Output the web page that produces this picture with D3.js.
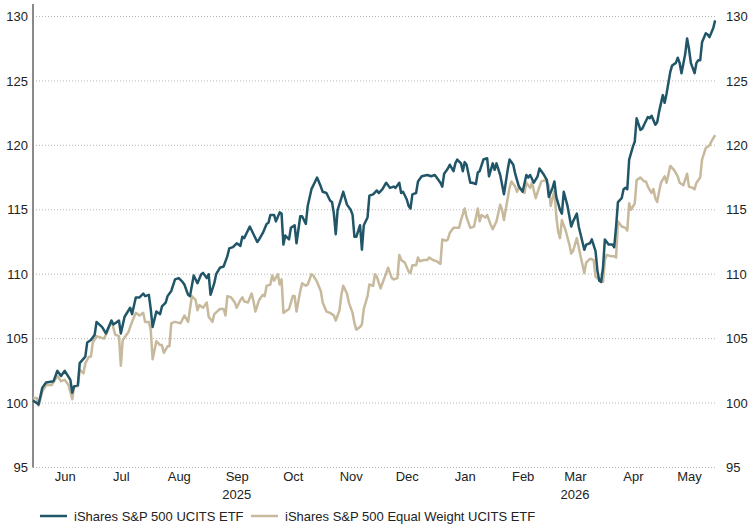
<!DOCTYPE html>
<html>
  <head>
    <title>iShares S&P 500 vs Equal Weight</title>
  <script src="https://d3js.org/d3.v7.min.js"></script>
  <style>
    body { margin: 0; background: #fff; }
    text { font-family: "Liberation Sans", Arial, sans-serif; }
  </style>
 </head>
<body>
<script type="text/javascript">

// series names (legend order)
var seriesNames = ["iShares S&P 500 UCITS ETF", "iShares S&P 500 Equal Weight UCITS ETF"];

// iShares S&P 500 UCITS ETF, rebased to 100
var spPoints = [
  ["2025-05-29",100.2],["2025-06-01",99.9],["2025-06-03",101.2],["2025-06-05",101.6],["2025-06-09",101.7],["2025-06-11",102.5],["2025-06-13",102.1],["2025-06-15",102.5],["2025-06-18",101.8],["2025-06-19",100.8],["2025-06-20",101.3],["2025-06-22",101.4],["2025-06-23",103.1],["2025-06-26",103.6],["2025-06-27",104.7],["2025-06-29",104.9],
  ["2025-07-01",105.3],["2025-07-02",106.3],["2025-07-05",105.9],["2025-07-07",105.4],["2025-07-10",106.4],["2025-07-11",106.1],["2025-07-14",106.4],["2025-07-15",105.4],["2025-07-17",106.7],["2025-07-20",107.4],["2025-07-21",106.9],["2025-07-23",108.2],["2025-07-25",108.2],["2025-07-27",108.5],["2025-07-28",108.3],["2025-07-30",108.4],["2025-07-31",107.3],
  ["2025-08-01",105.9],["2025-08-03",107.1],["2025-08-05",106.9],["2025-08-06",107.5],["2025-08-08",107.8],["2025-08-09",108.3],["2025-08-11",108.7],["2025-08-13",109.6],["2025-08-15",109.7],["2025-08-17",109.4],["2025-08-18",109.2],["2025-08-20",108.4],["2025-08-21",108.3],["2025-08-23",109.9],["2025-08-25",109.3],["2025-08-27",110.0],["2025-08-28",110.1],["2025-08-30",109.7],["2025-08-31",110.0],
  ["2025-09-01",108.4],["2025-09-03",109.3],["2025-09-04",110.0],["2025-09-06",110.5],["2025-09-08",110.6],["2025-09-10",111.4],["2025-09-11",112.0],["2025-09-13",112.1],["2025-09-15",112.4],["2025-09-17",112.2],["2025-09-18",112.9],["2025-09-19",112.8],["2025-09-22",113.7],["2025-09-24",113.1],["2025-09-26",112.5],["2025-09-27",112.7],["2025-09-29",113.2],
  ["2025-10-01",113.9],["2025-10-02",114.0],["2025-10-03",114.6],["2025-10-05",114.6],["2025-10-06",114.1],["2025-10-08",114.8],["2025-10-09",114.7],["2025-10-10",112.3],["2025-10-11",113.0],["2025-10-13",112.7],["2025-10-14",113.6],["2025-10-16",113.8],["2025-10-17",112.4],["2025-10-19",114.5],["2025-10-20",114.5],["2025-10-22",113.9],["2025-10-23",115.3],["2025-10-25",116.6],["2025-10-27",117.2],["2025-10-28",117.5],["2025-10-30",116.8],["2025-10-31",116.4],
  ["2025-11-02",116.3],["2025-11-04",115.7],["2025-11-05",115.6],["2025-11-06",114.7],["2025-11-07",113.1],["2025-11-08",115.0],["2025-11-10",115.9],["2025-11-11",116.4],["2025-11-13",115.4],["2025-11-15",115.0],["2025-11-16",114.6],["2025-11-17",112.9],["2025-11-18",112.9],["2025-11-20",113.8],["2025-11-21",111.9],["2025-11-22",113.8],["2025-11-24",114.4],["2025-11-25",116.1],["2025-11-27",116.2],["2025-11-29",116.5],["2025-11-30",116.3],
  ["2025-12-02",116.6],["2025-12-04",117.1],["2025-12-06",116.7],["2025-12-08",116.8],["2025-12-09",116.7],["2025-12-11",117.1],["2025-12-12",116.3],["2025-12-13",116.4],["2025-12-15",115.8],["2025-12-16",115.3],["2025-12-17",115.1],["2025-12-18",116.2],["2025-12-20",116.3],["2025-12-21",117.2],["2025-12-23",117.6],["2025-12-26",117.7],["2025-12-28",117.6],["2025-12-30",117.7],["2025-12-31",117.5],
  ["2026-01-02",117.1],["2026-01-03",116.8],["2026-01-04",117.8],["2026-01-06",118.2],["2026-01-07",118.5],["2026-01-09",118.0],["2026-01-10",118.6],["2026-01-11",118.9],["2026-01-13",118.6],["2026-01-14",118.0],["2026-01-15",118.7],["2026-01-16",118.5],["2026-01-18",117.1],["2026-01-19",117.1],["2026-01-21",117.0],["2026-01-22",117.9],["2026-01-23",118.0],["2026-01-25",118.9],["2026-01-27",119.0],["2026-01-28",117.6],["2026-01-30",118.6],["2026-01-31",118.1],
  ["2026-02-01",118.6],["2026-02-03",117.7],["2026-02-05",116.2],["2026-02-07",118.1],["2026-02-08",118.9],["2026-02-10",118.5],["2026-02-11",117.8],["2026-02-13",116.8],["2026-02-15",116.4],["2026-02-17",117.7],["2026-02-18",117.5],["2026-02-19",117.7],["2026-02-21",117.1],["2026-02-23",117.6],["2026-02-24",118.2],["2026-02-26",117.8],["2026-02-28",117.3],
  ["2026-03-01",116.0],["2026-03-03",116.7],["2026-03-04",117.2],["2026-03-05",116.0],["2026-03-07",115.0],["2026-03-08",114.7],["2026-03-09",116.4],["2026-03-11",115.3],["2026-03-13",113.7],["2026-03-14",114.1],["2026-03-16",114.7],["2026-03-17",113.7],["2026-03-19",112.5],["2026-03-20",111.9],["2026-03-21",112.3],["2026-03-23",112.4],["2026-03-24",112.7],["2026-03-26",111.8],["2026-03-27",110.3],["2026-03-28",109.5],["2026-03-29",109.4],["2026-03-30",110.5],["2026-03-31",112.7],
  ["2026-04-02",112.3],["2026-04-04",112.3],["2026-04-05",112.1],["2026-04-06",113.7],["2026-04-07",115.6],["2026-04-09",115.9],["2026-04-10",116.6],["2026-04-11",116.7],["2026-04-12",116.6],["2026-04-13",118.9],["2026-04-15",119.9],["2026-04-16",120.3],["2026-04-17",122.1],["2026-04-19",121.2],["2026-04-20",121.3],["2026-04-21",121.6],["2026-04-23",122.2],["2026-04-24",122.1],["2026-04-25",122.3],["2026-04-27",121.6],["2026-04-28",121.8],["2026-04-29",122.6],
  ["2026-05-01",123.9],["2026-05-02",123.3],["2026-05-03",124.0],["2026-05-05",125.7],["2026-05-06",126.2],["2026-05-08",126.4],["2026-05-09",126.8],["2026-05-10",126.4],["2026-05-11",125.6],["2026-05-13",127.1],["2026-05-14",128.3],["2026-05-15",127.5],["2026-05-16",126.4],["2026-05-18",125.6],["2026-05-19",126.4],["2026-05-20",126.6],["2026-05-21",126.6],["2026-05-22",128.0],["2026-05-24",128.7],["2026-05-25",128.6],["2026-05-26",128.4],["2026-05-28",129.1],["2026-05-29",129.7]
];

// iShares S&P 500 Equal Weight UCITS ETF, rebased to 100
var ewPoints = [
  ["2025-05-29",100.4],["2025-05-31",100.4],["2025-06-01",99.8],["2025-06-03",100.9],["2025-06-05",101.4],["2025-06-08",101.4],["2025-06-11",102.1],["2025-06-13",101.7],["2025-06-15",101.8],["2025-06-17",101.4],["2025-06-19",100.3],["2025-06-20",101.3],["2025-06-22",101.3],["2025-06-23",102.6],["2025-06-25",102.3],["2025-06-26",103.1],["2025-06-28",103.6],["2025-06-29",103.6],["2025-06-30",104.7],
  ["2025-07-02",105.2],["2025-07-04",105.1],["2025-07-06",105.0],["2025-07-08",105.6],["2025-07-10",106.4],["2025-07-12",105.3],["2025-07-14",105.2],["2025-07-15",102.9],["2025-07-16",104.9],["2025-07-19",105.5],["2025-07-21",106.3],["2025-07-23",107.0],["2025-07-25",106.8],["2025-07-27",107.0],["2025-07-28",106.3],["2025-07-30",106.3],["2025-07-31",105.7],
  ["2025-08-01",103.4],["2025-08-03",104.8],["2025-08-05",104.5],["2025-08-06",104.5],["2025-08-07",103.9],["2025-08-09",104.4],["2025-08-10",104.4],["2025-08-11",106.2],["2025-08-13",106.3],["2025-08-16",106.2],["2025-08-18",106.8],["2025-08-20",106.3],["2025-08-22",108.3],["2025-08-24",108.0],["2025-08-25",107.2],["2025-08-26",107.6],["2025-08-28",107.4],["2025-08-30",107.8],["2025-08-31",106.7],
  ["2025-09-02",106.3],["2025-09-03",106.9],["2025-09-06",107.3],["2025-09-08",107.3],["2025-09-09",106.8],["2025-09-10",108.3],["2025-09-12",108.2],["2025-09-14",107.8],["2025-09-15",107.4],["2025-09-17",108.0],["2025-09-18",108.2],["2025-09-19",107.9],["2025-09-21",107.8],["2025-09-23",108.5],["2025-09-24",107.9],["2025-09-25",107.1],["2025-09-27",108.0],["2025-09-29",108.4],["2025-09-30",108.3],
  ["2025-10-01",109.1],["2025-10-03",109.2],["2025-10-04",109.9],["2025-10-05",109.5],["2025-10-07",110.0],["2025-10-08",109.2],["2025-10-09",109.6],["2025-10-10",107.0],["2025-10-12",107.2],["2025-10-13",107.3],["2025-10-15",108.3],["2025-10-16",108.3],["2025-10-17",107.1],["2025-10-19",108.7],["2025-10-20",109.3],["2025-10-22",109.1],["2025-10-23",109.2],["2025-10-25",110.0],["2025-10-26",109.9],["2025-10-28",109.4],["2025-10-30",108.7],["2025-10-31",107.8],
  ["2025-11-02",107.1],["2025-11-04",107.0],["2025-11-06",106.8],["2025-11-07",106.4],["2025-11-09",107.2],["2025-11-10",108.4],["2025-11-11",109.1],["2025-11-13",108.5],["2025-11-14",107.8],["2025-11-16",107.0],["2025-11-17",106.2],["2025-11-18",105.7],["2025-11-20",105.9],["2025-11-21",106.1],["2025-11-22",107.3],["2025-11-24",108.3],["2025-11-25",109.2],["2025-11-27",109.1],["2025-11-28",110.0],["2025-11-29",109.8],
  ["2025-12-01",108.9],["2025-12-03",109.7],["2025-12-05",110.5],["2025-12-07",109.7],["2025-12-08",109.6],["2025-12-10",109.7],["2025-12-11",111.5],["2025-12-12",111.1],["2025-12-14",110.9],["2025-12-16",110.2],["2025-12-17",110.1],["2025-12-18",110.7],["2025-12-20",110.7],["2025-12-21",111.3],["2025-12-22",111.0],["2025-12-24",111.1],["2025-12-26",111.1],["2025-12-27",111.3],["2025-12-29",111.1],["2025-12-31",111.0],
  ["2026-01-02",110.8],["2026-01-03",112.7],["2026-01-05",112.6],["2026-01-06",112.7],["2026-01-07",113.2],["2026-01-09",113.6],["2026-01-10",113.6],["2026-01-12",113.6],["2026-01-13",114.2],["2026-01-15",115.1],["2026-01-16",114.4],["2026-01-18",113.6],["2026-01-20",113.7],["2026-01-21",114.4],["2026-01-22",115.1],["2026-01-23",114.1],["2026-01-24",114.6],["2026-01-26",114.4],["2026-01-27",114.6],["2026-01-29",113.8],["2026-01-30",113.5],
  ["2026-02-01",114.1],["2026-02-03",115.4],["2026-02-04",115.0],["2026-02-05",114.2],["2026-02-07",115.9],["2026-02-08",116.7],["2026-02-09",117.2],["2026-02-11",116.8],["2026-02-12",116.4],["2026-02-13",116.7],["2026-02-15",116.5],["2026-02-16",116.3],["2026-02-17",117.1],["2026-02-19",116.7],["2026-02-20",117.1],["2026-02-22",115.9],["2026-02-24",116.8],["2026-02-25",117.2],["2026-02-27",117.3],
  ["2026-03-01",116.9],["2026-03-02",115.3],["2026-03-04",116.5],["2026-03-05",114.5],["2026-03-06",113.3],["2026-03-07",112.8],["2026-03-08",114.2],["2026-03-10",113.4],["2026-03-12",112.3],["2026-03-13",111.6],["2026-03-14",111.8],["2026-03-16",112.8],["2026-03-18",111.4],["2026-03-20",110.1],["2026-03-21",110.9],["2026-03-23",111.2],["2026-03-25",111.1],["2026-03-26",109.8],["2026-03-28",109.6],["2026-03-29",109.6],["2026-03-30",109.4],["2026-03-31",111.1],
  ["2026-04-01",111.5],["2026-04-03",111.4],["2026-04-05",111.4],["2026-04-06",111.3],["2026-04-07",114.1],["2026-04-09",113.7],["2026-04-11",113.6],["2026-04-12",113.4],["2026-04-13",115.5],["2026-04-14",115.0],["2026-04-16",115.5],["2026-04-17",117.3],["2026-04-19",117.5],["2026-04-21",117.2],["2026-04-22",117.2],["2026-04-23",116.8],["2026-04-25",116.3],["2026-04-26",116.6],["2026-04-27",115.9],["2026-04-28",115.6],["2026-04-29",116.4],["2026-04-30",117.1],
  ["2026-05-02",117.6],["2026-05-03",117.1],["2026-05-05",118.4],["2026-05-07",118.1],["2026-05-09",117.6],["2026-05-10",117.1],["2026-05-12",116.9],["2026-05-14",117.8],["2026-05-15",116.8],["2026-05-17",116.7],["2026-05-18",116.6],["2026-05-19",117.1],["2026-05-21",117.5],["2026-05-22",118.9],["2026-05-24",119.8],["2026-05-26",120.0],["2026-05-27",120.3],["2026-05-29",120.8]
];

// axis labels
var yTicks = [95, 100, 105, 110, 115, 120, 125, 130];
var monthTicks = ["2025-06-15","2025-07-15","2025-08-15","2025-09-15","2025-10-15","2025-11-15","2025-12-15","2026-01-15","2026-02-15","2026-03-15","2026-04-15","2026-05-15"];
var yearLabels = [["2025","2025-09-15"],["2026","2026-03-15"]];

var width = 752, height = 528;
var margin = {left: 33, right: 35, top: 16.5, bottom: 60.5};
var colors = ["#215668", "#c7b99c"];

var parse = d3.timeParse("%Y-%m-%d");

var svg = d3.select("body").append("svg")
  .attr("width", width)
  .attr("height", height);

var x = d3.scaleTime()
  .domain([parse("2025-05-29"), parse("2026-05-30")])
  .range([margin.left, width - margin.right]);

var y = d3.scaleLinear()
  .domain([95, 130])
  .range([height - margin.bottom, margin.top]);

// dotted gridlines
svg.append("g")
  .selectAll("line")
  .data(yTicks)
  .enter().append("line")
  .attr("x1", margin.left)
  .attr("x2", width - margin.right)
  .attr("y1", function(d) { return y(d); })
  .attr("y2", function(d) { return y(d); })
  .attr("stroke", "#b5b5b5")
  .attr("stroke-width", 1)
  .attr("stroke-dasharray", "1,2");

// left and right value labels
var yLeft = svg.append("g")
  .attr("transform", "translate(" + (margin.left - 5) + ",0)")
  .call(d3.axisLeft(y).tickValues(yTicks).tickSize(0).tickPadding(0));
var yRight = svg.append("g")
  .attr("transform", "translate(" + (width - margin.right + 9) + ",0)")
  .call(d3.axisRight(y).tickValues(yTicks).tickSize(0).tickPadding(0));

// month labels
var xAxis = svg.append("g")
  .attr("transform", "translate(0," + (height - margin.bottom + 4) + ")")
  .call(d3.axisBottom(x).tickValues(monthTicks.map(parse)).tickFormat(d3.timeFormat("%b")).tickSize(0).tickPadding(0));

[yLeft, yRight, xAxis].forEach(function(a) {
  a.select(".domain").remove();
  a.selectAll("text").attr("font-size", 13).attr("fill", "#222")
    .attr("font-family", '"Liberation Sans", Arial, sans-serif');
});

// year labels under the months
svg.append("g")
  .selectAll("text")
  .data(yearLabels)
  .enter().append("text")
  .attr("x", function(d) { return x(parse(d[1])); })
  .attr("y", height - margin.bottom + 31)
  .attr("text-anchor", "middle")
  .attr("font-size", 13)
  .attr("fill", "#222")
  .text(function(d) { return d[0]; });

// left axis bar
svg.append("line")
  .attr("x1", margin.left).attr("x2", margin.left)
  .attr("y1", 4).attr("y2", y(95))
  .attr("stroke", "#8a8a8a")
  .attr("stroke-width", 2);

// lines
var line = d3.line()
  .x(function(d) { return x(parse(d[0])); })
  .y(function(d) { return y(d[1]); });

[ewPoints, spPoints].forEach(function(pts, i) {
  svg.append("path")
    .datum(pts)
    .attr("d", line)
    .attr("fill", "none")
    .attr("stroke", colors[1 - i])
    .attr("stroke-width", 2.5)
    .attr("stroke-linejoin", "round");
});

// legend
var legendX = [40, 251];
var legend = svg.append("g")
  .selectAll("g")
  .data(seriesNames)
  .enter().append("g")
  .attr("transform", function(d, i) { return "translate(" + legendX[i] + ",516)"; });

legend.append("line")
  .attr("x1", 0).attr("x2", 27)
  .attr("stroke", function(d, i) { return colors[i]; })
  .attr("stroke-width", 2.5);

legend.append("text")
  .attr("x", 34)
  .attr("dy", "0.35em")
  .attr("font-size", 13)
  .attr("fill", "#222")
  .text(function(d) { return d; });

</script>
  </body>
</html>
